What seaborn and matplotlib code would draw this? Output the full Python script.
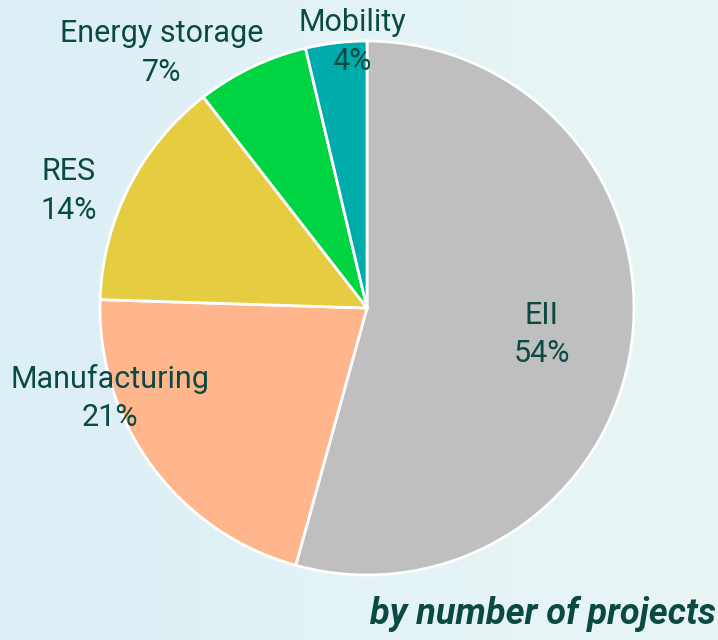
import numpy as np
import matplotlib
matplotlib.use("Agg")
import matplotlib.pyplot as plt
import seaborn as sns
from matplotlib.colors import LinearSegmentedColormap

# data (shares; labels show rounded values)
sectors = ["EII", "Manufacturing", "RES", "Energy storage", "Mobility"]
shares = [54.3, 21.2, 14.0, 6.8, 3.7]
colors = ["#BFBFBF", "#FFB68C", "#E6CC40", "#00D442", "#00ABAB"]

# label centres, in units of the pie radius (pie centred on 0,0)
label_pos = [(0.655, -0.10), (-0.963, -0.337), (-1.116, 0.438),
             (-0.768, 0.955), (-0.056, 0.996)]

sns.set_theme(style="white")
plt.rcParams["font.family"] = ["Roboto", "DejaVu Sans"]
text_col = "#0B4A42"

fig = plt.figure(figsize=(7.18, 6.4), dpi=100)
ax = fig.add_axes([0, 0, 1, 1])

wedges, _ = ax.pie(shares, colors=colors, startangle=90, counterclock=False,
                   radius=1, center=(0, 0),
                   wedgeprops=dict(edgecolor="white", linewidth=2))

xlim = (-1.3745, 1.3146)
ylim = (-1.2434, 1.1536)

# soft blue background gradient
grad = np.linspace(0, 1, 256).reshape(1, -1)
cmap = LinearSegmentedColormap.from_list("bg", ["#DCEFF5", "#EAF6F6"])
ax.imshow(grad, extent=[xlim[0], xlim[1], ylim[0], ylim[1]], aspect="auto",
          cmap=cmap, zorder=0)
for w in wedges:
    w.set_zorder(2)

for name, val, (x, y) in zip(sectors, shares, label_pos):
    ax.text(x, y, f"{name}\n{round(val)}%", ha="center", va="center",
            fontsize=22, color=text_col, linespacing=1.4, zorder=3)

ax.text(1.305, -1.145, "by number of projects", ha="right", va="center",
        fontsize=26, fontweight="bold", fontstyle="italic", color=text_col,
        zorder=3)

ax.set_xlim(*xlim)
ax.set_ylim(*ylim)
ax.set_aspect("equal")
ax.axis("off")

fig.savefig("out.png", dpi=100)
